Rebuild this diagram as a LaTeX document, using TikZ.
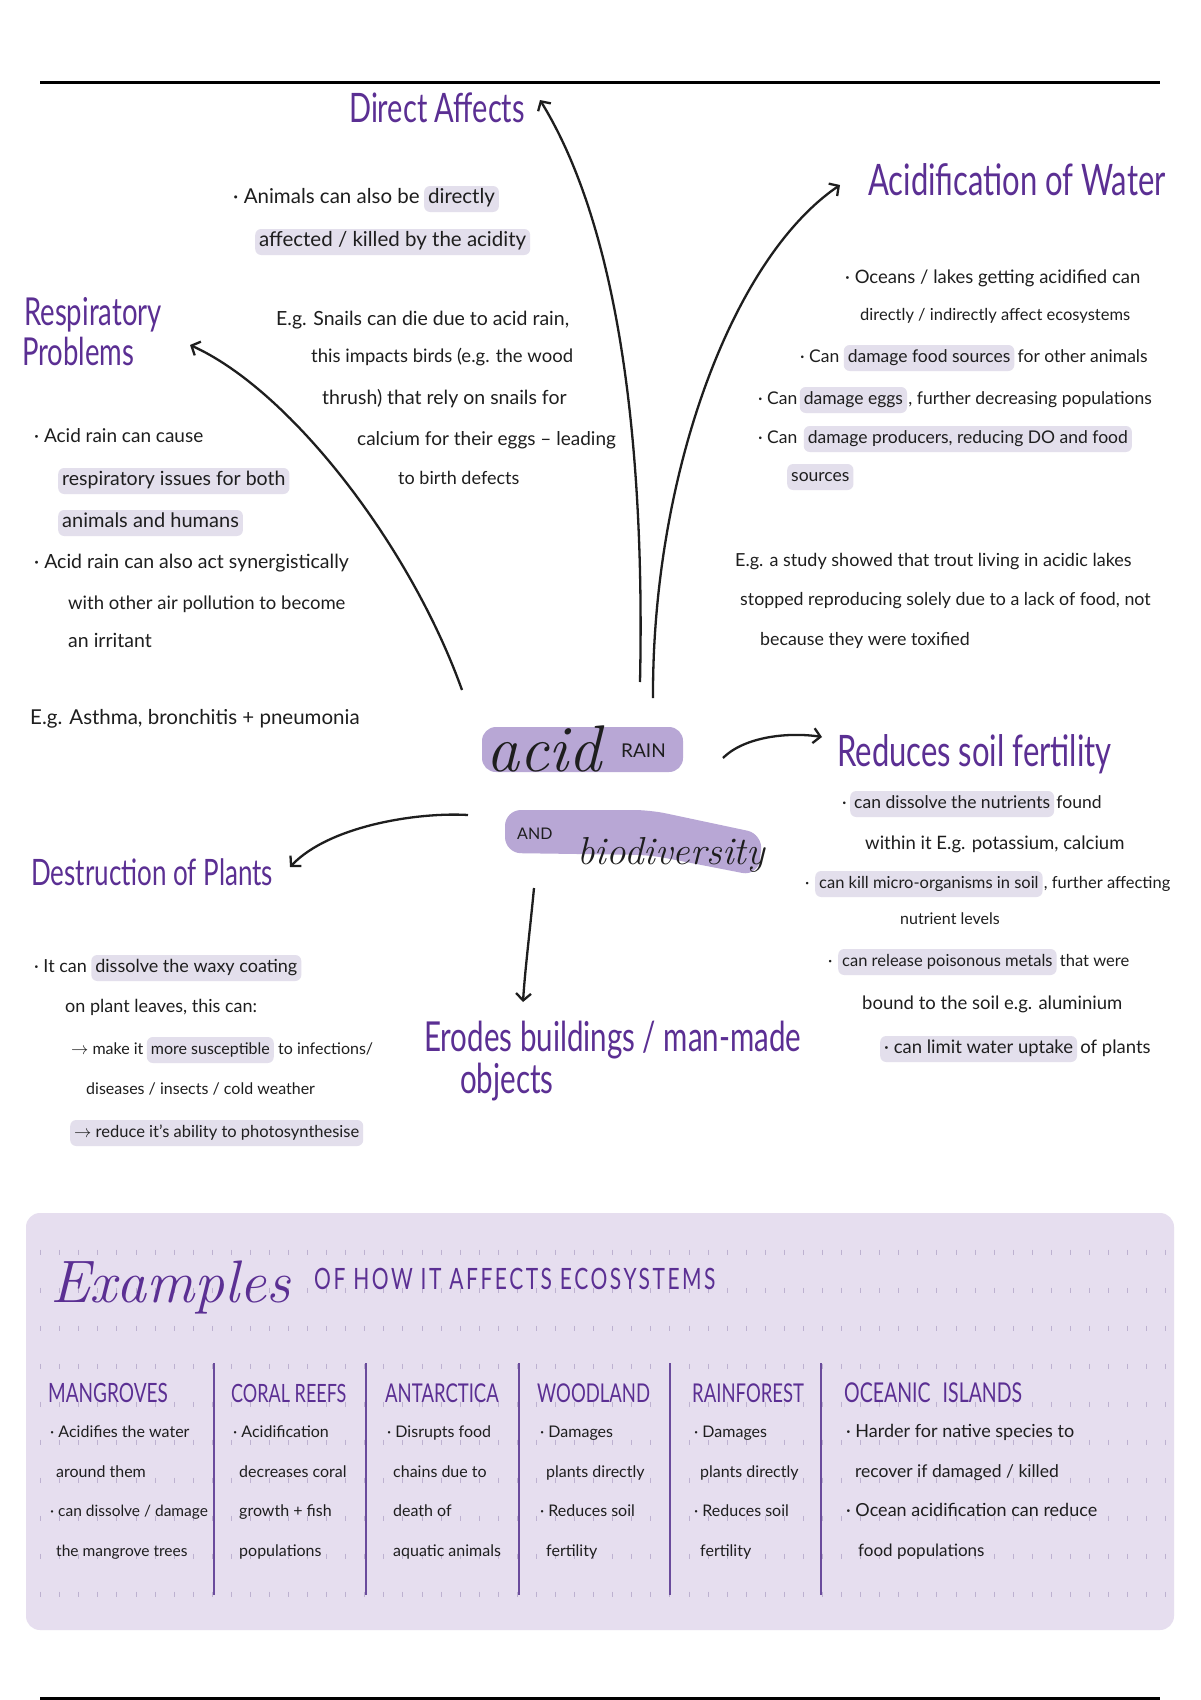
\documentclass[tikz,border=0pt]{standalone}
\usepackage{graphicx}
\usepackage{fontspec}
\setmainfont{Lato}
\newfontfamily\lmr{Latin Modern Roman}
\usetikzlibrary{arrows.meta}
\definecolor{ink}{HTML}{1E1E1E}
\definecolor{purp}{HTML}{5B2F93}
\definecolor{hlg}{HTML}{E3DFEC}
\definecolor{hlc}{HTML}{B8A7D5}
\definecolor{boxc}{HTML}{E6DEEF}
\definecolor{dotc}{HTML}{BDB1D0}
\definecolor{divc}{HTML}{6A4B9C}
\newcommand{\tl}[1]{\scalebox{1}[1.4]{#1}}
\tikzset{
  tx/.style={inner sep=0pt, anchor=base west, text=ink},
  hl/.style={tx, fill=hlg, rounded corners=6pt, inner xsep=4pt, inner ysep=5pt, text height=12pt, text depth=4pt},
  hd/.style={inner sep=0pt, anchor=base west, text=purp},
  fs/.style={font=\fontsize{#1}{#1}\selectfont},
  arr/.style={draw=ink, line width=2.3pt, -{Straight Barb[length=7pt,width=15pt]}},
}
\begin{document}
\begin{tikzpicture}[x=1pt, y=-1pt]
\useasboundingbox (0,0) rectangle (1200,1700);
\fill[white] (0,0) rectangle (1200,1700);
% rules
\draw[line width=3pt, black] (40,82) -- (1160,82);
\draw[line width=3pt, black] (40,1698) -- (1160,1698);

% ---------- centre ----------
\fill[hlc, rounded corners=14pt] (482,727) rectangle (683,772);
\fill[hlc, rounded corners=16pt] (505,810) -- (650,810) -- (763,834) -- (758,876) -- (650,855) -- (505,853) -- cycle;
\node[tx, font=\lmr\itshape\fontsize{66}{66}\selectfont] (acid) at (486,771) {acid};
\node[tx, fs=19] (rain) at (621,757) {RAIN};
\node[tx, fs=16] (and) at (517,839) {AND};
\node[tx, font=\lmr\itshape\fontsize{39}{39}\selectfont] (bio) at (577,864) {biodiversity};

% ---------- headings ----------
\node[hd, fs=29] (dir) at (349,122) {\tl{Direct Affects}};
\node[hd, fs=31] (wat) at (868,195) {\tl{Acidification of Water}};
\node[hd, fs=27.5] (resp1) at (24,325) {\tl{Respiratory}};
\node[hd, fs=27.5] (resp2) at (22,365) {\tl{Problems}};
\node[hd, fs=31] (soil) at (837,766) {\tl{Reduces soil fertility}};
\node[hd, fs=26] (dest) at (31,885) {\tl{Destruction of Plants}};
\node[hd, fs=29.5] (ero) at (424,1051) {\tl{Erodes buildings / man-made}};
\node[hd, fs=29.5] (obj) at (460,1093) {\tl{objects}};

% ---------- connectors ----------
\coordinate (cR) at (462,690);
\coordinate (cD) at (640,682);
\coordinate (cW) at (653,698);
\coordinate (cS) at (723,758);
\coordinate (cP) at (468,815);
\coordinate (cE) at (534,888);
\draw[arr] (cR) .. controls (410,545) and (290,390) .. ([shift={(166,20)}]resp1.base west);
\draw[arr] (cD) .. controls (645,450) and (620,230) .. ([shift={(191,-22)}]dir.base west);
\draw[arr] (cW) .. controls (652,480) and (730,260) .. ([shift={(-28,-10)}]wat.base west);
\draw[arr] (cS) .. controls (745,736) and (790,732) .. ([shift={(-15,-29)}]soil.base west);
\draw[arr] (cP) .. controls (420,812) and (330,825) .. ([shift={(259,-18)}]dest.base west);
\draw[arr] (cE) .. controls (530,930) and (525,970) .. ([shift={(99,-49)}]ero.base west);

% ---------- Direct affects ----------
\node[tx, fs=20.5] (d1a) at (233,203) {· Animals can also be};
\node[hl, fs=20.5] (d1b) at ([xshift=4pt]d1a.base east) {directly};
\node[hl, fs=20.5] (d2) at (255,246) {affected / killed by the acidity};
\node[tx, fs=19.5] (s1) at (276,325) {E.g. Snails can die due to acid rain,};
\node[tx, fs=18.5] (s2) at (311,362) {this impacts birds (e.g. the wood};
\node[tx, fs=19.5] (s3) at (322,404) {thrush) that rely on snails for};
\node[tx, fs=19] (s4) at (357,445) {calcium for their eggs – leading};
\node[tx, fs=18] (s5) at (398,484) {to birth defects};

% ---------- Respiratory ----------
\node[tx, fs=19] (r1) at (34,442) {· Acid rain can cause};
\node[hl, fs=19.5] (r2) at (58,485) {respiratory issues for both};
\node[hl, fs=20] (r3) at (58,527) {animals and humans};
\node[tx, fs=19.5] (r4) at (34,568) {· Acid rain can also act synergistically};
\node[tx, fs=18.5] (r5) at (68,609) {with other air pollution to become};
\node[tx, fs=19.5] (r6) at (68,647) {an irritant};
\node[tx, fs=20.5] (r7) at (30,724) {E.g. Asthma, bronchitis + pneumonia};

% ---------- Water ----------
\node[tx, fs=18.5] (w1) at (845,283) {· Oceans / lakes getting acidified can};
\node[tx, fs=16.5] (w2) at (860,320) {directly / indirectly affect ecosystems};
\node[tx, fs=17.5] (w3a) at (800,362) {· Can};
\node[hl, fs=17.5] (w3b) at ([xshift=4pt]w3a.base east) {damage food sources};
\node[tx, fs=17.5] (w3c) at ([xshift=3pt]w3b.base east) {for other animals};
\node[tx, fs=17.5] (w4a) at (758,404) {· Can};
\node[hl, fs=17.5] (w4b) at ([xshift=2pt]w4a.base east) {damage eggs};
\node[tx, fs=17.5] (w4c) at ([xshift=1pt]w4b.base east) {, further decreasing populations};
\node[tx, fs=17.5] (w5a) at (758,443) {· Can};
\node[hl, fs=17.5] (w5b) at ([xshift=6pt]w5a.base east) {damage producers, reducing DO and food};
\node[hl, fs=17.5] (w6) at (787,481) {sources};
\node[tx, fs=18] (e1) at (735,566) {E.g. a study showed that trout living in acidic lakes};
\node[tx, fs=17.8] (e2) at (740,605) {stopped reproducing solely due to a lack of food, not};
\node[tx, fs=17.8] (e3) at (760,645) {because they were toxified};

% ---------- Soil ----------
\node[tx, fs=17.5] (o1a) at (842,808) {·};
\node[hl, fs=17.5] (o1b) at (850,808) {can dissolve the nutrients};
\node[tx, fs=17.5] (o1c) at ([xshift=2pt]o1b.base east) {found};
\node[tx, fs=18.5] (o2) at (865,849) {within it E.g. potassium, calcium};
\node[tx, fs=16.5] (o3a) at (805,888) {·};
\node[hl, fs=16.5] (o3b) at (815,888) {can kill micro-organisms in soil};
\node[tx, fs=16.5] (o3c) at ([xshift=1pt]o3b.base east) {, further affecting};
\node[tx, fs=16] (o4) at (900,924) {nutrient levels};
\node[tx, fs=16.5] (o5a) at (828,966) {·};
\node[hl, fs=16.5] (o5b) at (838,966) {can release poisonous metals};
\node[tx, fs=16.5] (o5c) at ([xshift=3pt]o5b.base east) {that were};
\node[tx, fs=18.5] (o6) at (862,1009) {bound to the soil e.g. aluminium};
\node[hl, fs=18.5] (o7a) at (880,1053) {· can limit water uptake};
\node[tx, fs=18.5] (o7b) at ([xshift=3pt]o7a.base east) {of plants};

% ---------- Plants ----------
\node[tx, fs=18] (p1a) at (34,972) {· It can};
\node[hl, fs=18] (p1b) at ([xshift=4pt]p1a.base east) {dissolve the waxy coating};
\node[tx, fs=18] (p2) at (65,1012) {on plant leaves, this can:};
\node[tx, fs=16] (p3a) at (71,1054) {$\to$ make it};
\node[hl, fs=16] (p3b) at ([xshift=3pt]p3a.base east) {more susceptible};
\node[tx, fs=16] (p3c) at ([xshift=4pt]p3b.base east) {to infections/};
\node[tx, fs=16] (p4) at (86,1094) {diseases / insects / cold weather};
\node[hl, fs=16.5] (p5) at (70,1137) {$\to$ reduce it's ability to photosynthesise};

% ---------- Examples box ----------
\fill[boxc, rounded corners=14pt] (26,1213) rectangle (1174,1630);
\foreach \j in {0,...,9} {
  \foreach \i in {0,...,59} {
    \draw[dotc, line width=0.9pt] ({40.6+19.07*\i},{1249.5+38*\j}) -- ++(0,5);
  }
}
\foreach \xx in {214,366,519,670,821} {
  \draw[divc, line width=2pt] (\xx,1363) -- (\xx,1595);
}
\node[hd, font=\lmr\itshape\fontsize{60}{60}\selectfont] (ex) at (50,1302) {Examples};
\node[hd, font=\addfontfeature{LetterSpace=12}\fontsize{21}{21}\selectfont] (exsub) at (314,1289) {\tl{OF HOW IT AFFECTS ECOSYSTEMS}};

\node[hd, fs=19] (h1) at (48,1402) {\tl{MANGROVES}};
\node[hd, fs=18] (h2) at (231,1402) {\tl{CORAL REEFS}};
\node[hd, fs=18.5] (h3) at (385,1402) {\tl{ANTARCTICA}};
\node[hd, fs=18.5] (h4) at (537,1402) {\tl{WOODLAND}};
\node[hd, fs=18.5] (h5) at (692,1402) {\tl{RAINFOREST}};
\node[hd, fs=19.5] (h6) at (844,1402) {\tl{OCEANIC\hspace{12pt}ISLANDS}};

\node[tx, fs=16] (m1) at (50,1437) {· Acidifies the water};
\node[tx, fs=16] (m2) at (56,1477) {around them};
\node[tx, fs=15.5] (m3) at (50,1516) {· can dissolve / damage};
\node[tx, fs=15.5] (m4) at (56,1556) {the mangrove trees};

\node[tx, fs=16] (k1) at (233,1437) {· Acidification};
\node[tx, fs=16] (k2) at (239,1477) {decreases coral};
\node[tx, fs=16] (k3) at (239,1516) {growth + fish};
\node[tx, fs=16] (k4) at (239,1556) {populations};

\node[tx, fs=16] (a1) at (387,1437) {· Disrupts food};
\node[tx, fs=16] (a2) at (393,1477) {chains due to};
\node[tx, fs=16] (a3) at (393,1516) {death of};
\node[tx, fs=16] (a4) at (393,1556) {aquatic animals};

\node[tx, fs=16] (wd1) at (540,1437) {· Damages};
\node[tx, fs=16] (wd2) at (546,1477) {plants directly};
\node[tx, fs=16] (wd3) at (540,1516) {· Reduces soil};
\node[tx, fs=16] (wd4) at (546,1556) {fertility};

\node[tx, fs=16] (rf1) at (694,1437) {· Damages};
\node[tx, fs=16] (rf2) at (700,1477) {plants directly};
\node[tx, fs=16] (rf3) at (694,1516) {· Reduces soil};
\node[tx, fs=16] (rf4) at (700,1556) {fertility};

\node[tx, fs=18] (oi1) at (846,1437) {· Harder for native species to};
\node[tx, fs=17.5] (oi2) at (855,1477) {recover if damaged / killed};
\node[tx, fs=18] (oi3) at (846,1516) {· Ocean acidification can reduce};
\node[tx, fs=17] (oi4) at (858,1556) {food populations};
\end{tikzpicture}
\end{document}
